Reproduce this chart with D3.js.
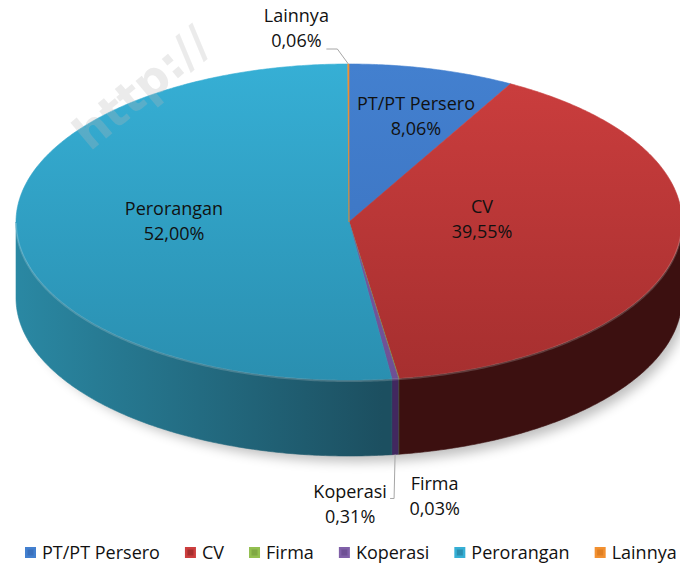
<!DOCTYPE html>
<html>
<head>
<meta charset="utf-8">
<script src="https://cdn.jsdelivr.net/npm/d3@7"></script>
<style>
    body { margin: 0; background: #fff; }
    text { font-family: "Open Sans", Lato, sans-serif; }
</style>
</head>
<body>
<svg id="viz" width="680" height="569"></svg>
<script>
// data
var categories = ["PT/PT Persero", "CV", "Firma", "Koperasi", "Perorangan", "Lainnya"];
var values = [8.06, 39.55, 0.03, 0.31, 52.00, 0.06];
var valueLabels = ["8,06%", "39,55%", "0,03%", "0,31%", "52,00%", "0,06%"];

// colours: top face (light, dark) and side wall (light, dark)
var topColors = [["#4380cf", "#3a70bd"], ["#cc3e3e", "#a62f2f"], ["#93bf50", "#7fa843"],
    ["#8060a8", "#6e5094"], ["#36afd5", "#2a8fb0"], ["#f29030", "#e07f22"]];
var sideColors = [["#24497a", "#1d3b63"], ["#5a1b1b", "#3c1010"], ["#5a7a2a", "#4a6622"],
    ["#523676", "#42285f"], ["#2a88a3", "#1c4f60"], ["#a85f1c", "#8a4c14"]];

window.addEventListener("load", run);

function run() {
    var svg = d3.select("#viz");
    var cx = 349, cy = 222, rx = 333, ry = 158, depth = 76;
    var fontSize = 18;

    var pie = d3.pie().sort(null).value(function (d) { return d.value; });
    var data = categories.map(function (c, i) {
        return { name: c, value: values[i], label: valueLabels[i], idx: i };
    });
    var arcs = pie(data);

    var defs = svg.append("defs");
    var blur = defs.append("filter").attr("id", "shadow")
        .attr("x", "-20%").attr("y", "-20%").attr("width", "140%").attr("height", "140%");
    blur.append("feGaussianBlur").attr("stdDeviation", 6);

    arcs.forEach(function (a, i) {
        var g = defs.append("linearGradient").attr("id", "top" + i)
            .attr("gradientUnits", "userSpaceOnUse")
            .attr("x1", 0).attr("y1", cy - ry).attr("x2", 0).attr("y2", cy + ry);
        g.append("stop").attr("offset", 0).attr("stop-color", topColors[i][0]);
        g.append("stop").attr("offset", 1).attr("stop-color", topColors[i][1]);

        var s = defs.append("linearGradient").attr("id", "side" + i)
            .attr("gradientUnits", "userSpaceOnUse")
            .attr("x1", cx - rx).attr("y1", 0).attr("x2", cx + rx).attr("y2", 0);
        s.append("stop").attr("offset", 0).attr("stop-color", sideColors[i][0]);
        s.append("stop").attr("offset", 0.55).attr("stop-color", sideColors[i][1]);
        s.append("stop").attr("offset", 1).attr("stop-color", sideColors[i][1]);
    });

    // helpers: angle measured clockwise from 12 o'clock
    var px = function (a) { return cx + rx * Math.sin(a); };
    var py = function (a) { return cy - ry * Math.cos(a); };
    var line = d3.line();

    var arcPoints = function (a0, a1, dy) {
        var n = Math.max(2, Math.ceil((a1 - a0) / 0.01));
        return d3.range(n + 1).map(function (k) {
            var a = a0 + (a1 - a0) * k / n;
            return [px(a), py(a) + (dy || 0)];
        });
    };

    // soft shadow under the pie
    svg.append("ellipse")
        .attr("cx", cx + 8).attr("cy", cy + depth + 6)
        .attr("rx", rx - 4).attr("ry", ry)
        .attr("fill", "#000").attr("opacity", 0.25)
        .attr("filter", "url(#shadow)");

    // side walls (front half only)
    arcs.forEach(function (a, i) {
        var s0 = Math.max(a.startAngle, Math.PI / 2);
        var s1 = Math.min(a.endAngle, 3 * Math.PI / 2);
        if (s1 <= s0) return;
        var pts = arcPoints(s0, s1, 0).concat(arcPoints(s0, s1, depth).reverse());
        svg.append("path")
            .attr("d", line(pts) + "Z")
            .attr("fill", "url(#side" + i + ")")
            .attr("stroke", "url(#side" + i + ")")
            .attr("stroke-width", 0.6);
    });

    // top faces
    arcs.forEach(function (a, i) {
        var pts = [[cx, cy]].concat(arcPoints(a.startAngle, a.endAngle, 0));
        svg.append("path")
            .attr("d", line(pts) + "Z")
            .attr("fill", "url(#top" + i + ")")
            .attr("stroke", "url(#top" + i + ")")
            .attr("stroke-width", 0.6);
    });

    // faint highlight on the front rim
    svg.append("path")
        .attr("d", line(arcPoints(Math.PI / 2, 3 * Math.PI / 2, 1)))
        .attr("fill", "none").attr("stroke", "#fff")
        .attr("stroke-opacity", 0.18).attr("stroke-width", 2);

    // watermark
    svg.append("text")
        .attr("transform", "translate(90,152) rotate(-40)")
        .attr("font-size", 46).attr("font-weight", "bold")
        .attr("fill", "#b8b8b8").attr("opacity", 0.28)
        .style("font-family", "'DejaVu Sans', sans-serif")
        .text("http://");

    // labels: first-baseline offsets from the pie centre for the big slices,
    // offsets from the rim for the small ones (with leader lines)
    var inside = {
        "PT/PT Persero": [67, -112],
        "CV": [133, -9],
        "Perorangan": [-175, -7]
    };
    var outside = {
        "Lainnya": { dx: -52, dy: -42, rim: "top", leader: [[-11, -15], [-22, -15]] },
        "Firma": { dx: 36, dy: 36, rim: "bottom" },
        "Koperasi": { dx: -45, dy: 44, rim: "bottom", leader: [[-1, 44], [-5, 44]] }
    };
    arcs.forEach(function (a) {
        var mid = (a.startAngle + a.endAngle) / 2;
        var x, y;
        if (inside[a.data.name]) {
            x = cx + inside[a.data.name][0];
            y = cy + inside[a.data.name][1];
        } else {
            var o = outside[a.data.name];
            var ax = px(mid), ay = py(mid) + (o.rim === "bottom" ? depth : 0);
            if (o.leader) {
                var lp = [[ax, ay]].concat(o.leader.map(function (p) {
                    return [ax + p[0], ay + p[1]];
                }));
                svg.append("path").attr("d", line(lp))
                    .attr("fill", "none").attr("stroke", "#a6a6a6").attr("stroke-width", 1);
            }
            x = ax + o.dx;
            y = ay + o.dy;
        }
        var t = svg.append("text")
            .attr("x", x).attr("y", y)
            .attr("text-anchor", "middle")
            .attr("font-size", fontSize).attr("fill", "#111");
        t.append("tspan").attr("x", x).text(a.data.name);
        t.append("tspan").attr("x", x).attr("dy", 25).text(a.data.label);
    });

    // legend
    var legend = svg.append("g").attr("transform", "translate(25,559)");
    var lx = 0;
    categories.forEach(function (c, i) {
        var item = legend.append("g").attr("transform", "translate(" + lx + ",0)");
        item.append("rect").attr("x", 0).attr("y", -12).attr("width", 11).attr("height", 11)
            .attr("fill", topColors[i][0]);
        item.append("rect").attr("x", 2.5).attr("y", -9.5).attr("width", 6).attr("height", 6)
            .attr("fill", topColors[i][1]);
        var tx = item.append("text").attr("x", 17).attr("y", 0)
            .attr("font-size", fontSize).attr("fill", "#111").text(c);
        lx += 17 + tx.node().getComputedTextLength() + 25;
    });
}
</script>
</body>
</html>
